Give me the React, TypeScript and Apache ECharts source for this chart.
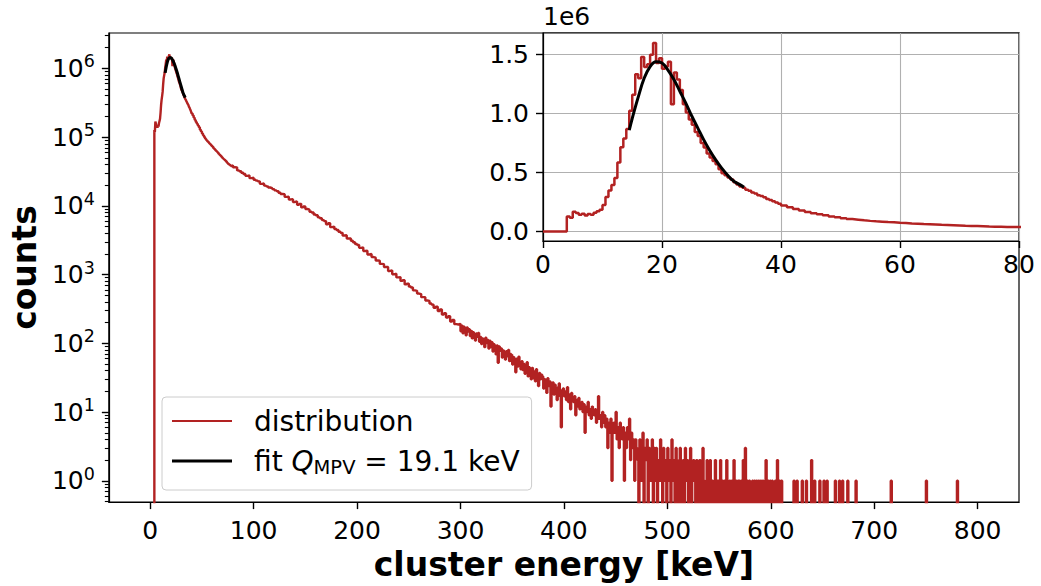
import React, { useEffect, useRef } from "react";
import * as echarts from "echarts";

// ---------------- data ----------------
// Histogram of cluster energy: each segment = start energy [keV], bin width [keV], counts per bin
const seg1Start = 0;
const seg1Width = 0.5;
const seg1Counts = [
  0, 0, 0, 0, 0, 0, 0, 0, 0,
  127000, 118000, 168000, 158000, 142000, 150000, 137000, 148000, 142000, 160000,
  172000, 185000, 226000, 292000, 348000, 395000, 455000, 585000, 715000, 790000,
  870000, 1025000, 1160000, 1335000, 1300000, 1480000, 1395000, 1420000, 1500000, 1600000,
  1430000, 1470000, 1380000, 1400000, 1440000, 1080000, 1350000, 1290000, 1200000, 1080000,
  1010000, 950000, 905000, 845000, 810000, 752000, 712000, 662000, 628000, 598000,
  571000, 528000, 495000, 478000, 458000, 441000, 418000, 400000, 382000, 371000,
  354000, 346000, 331000, 322000, 308000, 301000, 290000, 276000, 268000, 256000,
  246000,
];
const seg2Start = 40;
const seg2Width = 1;
const seg2Counts = [
  235000, 221000, 206000, 192000, 178000, 166000, 156000, 147000, 139000, 128000,
  121000, 113000, 106000, 100500, 95000, 90500, 87000, 84000, 80500, 78000,
  75000, 72500, 69000, 66500, 64000, 62000, 59500, 57000, 55000, 53000,
  51000, 49000, 47500, 46000, 44500, 42500, 41000, 40000, 39000, 38000,
];
const seg3Start = 80;
const seg3Width = 2;
const seg3Counts = [
  38900, 36400, 36300, 32800, 31900, 30300, 29100, 27300, 27700, 25300,
  25600, 24000, 23300, 22700, 20900, 21100, 19700, 19200, 18500, 18100,
  17500, 16800, 16400, 15500, 14900, 14800, 13500, 13600, 12400, 12500,
  11400, 11600, 10400, 10700, 9500, 9800, 9000, 8800, 8200, 8000,
  7500, 7300, 6800, 6600, 6200, 6000, 5400, 5600, 4900, 5000,
  4600, 4450, 4200, 4050, 3700, 3750, 3350, 3350, 3100, 2950,
  2780, 2700, 2450, 2480, 2200, 2220, 1960, 1990, 1800, 1760,
  1600, 1590, 1430, 1420, 1290, 1290, 1130, 1150, 1010, 1030,
  910, 920, 810, 830, 720, 740, 670, 650, 590, 580,
  530, 520, 470, 470, 420, 415, 380, 365, 330, 340,
  295, 310, 262, 275, 238, 248, 208, 218, 190, 188,
];
const seg4Start = 300;
const seg4Width = 1;
const seg4Counts = [
  192, 150, 181, 140, 174, 162, 131, 170, 148, 160,
  128, 152, 118, 145, 133, 110, 139, 124, 141, 105,
  124, 98, 118, 106, 88, 121, 101, 112, 84, 109,
  88, 104, 76, 97, 85, 69, 93, 52, 90, 78,
  84, 62, 79, 71, 58, 77, 65, 80, 55, 70,
  68, 49, 63, 57, 38, 60, 46, 64, 51, 42,
  55, 41, 50, 36, 47, 53, 33, 45, 39, 30,
  44, 31, 39, 28, 42, 33, 24, 37, 30, 35,
  33, 22, 30, 26, 19, 31, 24, 28, 12, 25,
  27, 18, 25, 20, 15, 23, 26, 17, 6, 21,
  22, 17, 20, 15, 23, 14, 18, 11, 19, 16,
  14, 17, 9, 15, 12, 16, 11, 13, 14, 10,
  13, 5, 12, 10, 14, 9, 11, 8, 12, 10,
  9, 11, 7, 10, 17, 8, 9, 6, 10, 7,
  9, 6, 8, 3, 7, 5, 8, 1, 6, 7,
  5, 10, 4, 6, 3, 7, 5, 4, 6, 1,
  5, 3, 6, 4, 8, 2, 5, 3, 4, 1,
  4, 3, 2, 0, 4, 3, 1, 5, 0, 3,
  2, 4, 0, 3, 1, 2, 4, 0, 3, 1,
  3, 0, 2, 1, 4, 2, 0, 3, 1, 2,
  0, 3, 1, 2, 0, 4, 1, 2, 0, 3,
  1, 0, 2, 3, 0, 1, 2, 0, 3, 1,
  2, 0, 1, 3, 0, 1, 2, 1, 0, 2,
  1, 0, 2, 1, 0, 3, 1, 0, 1, 2,
  0, 1, 2, 0, 1, 0, 1, 2, 0, 1,
  1, 0, 2, 0, 1, 0, 1, 0, 2, 1,
  0, 1, 0, 1, 0, 2, 0, 1, 0, 1,
  1, 0, 1, 0, 2, 0, 3, 0, 1, 0,
  1, 0, 0, 1, 0, 1, 0, 1, 0, 1,
  0, 1, 0, 1, 0, 0, 2, 0, 1, 0,
  1, 0, 1, 0, 0, 1, 0, 2, 0, 1,
  0, 1, 0, 0, 0, 0, 0, 0, 0, 0,
  0, 0, 0, 1, 0, 0, 1, 0, 0, 0,
  0, 1, 0, 0, 0, 1, 0, 0, 0, 0,
  2, 0, 0, 1, 0, 0, 0, 0, 1, 0,
  0, 0, 1, 0, 0, 1, 0, 0, 0, 0,
  0, 0, 0, 1, 0, 0, 0, 1, 0, 0,
  1, 0, 0, 0, 0, 1, 0, 0, 0, 0,
  0, 0, 0, 1, 0, 0, 0, 0, 0, 0,
  0, 0, 0, 0, 0, 0, 0, 0, 0, 0,
  0, 0, 0, 0, 0, 0, 0, 0, 0, 0,
  0, 0, 0, 0, 0, 0, 0, 1, 0, 0,
  0, 0, 0, 0, 0, 0, 0, 0, 0, 0,
  0, 0, 0, 0, 0, 0, 0, 0, 0, 0,
  0, 0, 0, 0, 0, 0, 0, 0, 0, 0,
  0, 1, 0, 0, 0, 0, 0, 0, 0, 0,
  0, 0, 0, 0, 0, 0, 0, 0, 0, 0,
  0, 0, 0, 0, 0, 0, 0, 0, 0, 0,
  0, 1, 0, 0, 0, 0, 0, 0, 0, 0,
  0, 0, 0, 0, 0, 0, 0, 0, 0, 0,
];

// Landau-type fit curve
const fitEnergy = [14.5, 15, 16, 17, 18, 19, 20, 21, 22, 23, 24, 25, 26, 27, 28, 29, 30, 31, 32, 33, 33.8];
const fitCounts = [
  860000, 960000, 1140000, 1300000, 1400000, 1440000, 1430000, 1370000, 1290000, 1190000,
  1090000, 980000, 880000, 780000, 690000, 610000, 540000, 480000, 430000, 400000, 375000,
];

// axis ticks
const mainXTicks = [0, 100, 200, 300, 400, 500, 600, 700, 800];
const mainYDecades = [0, 1, 2, 3, 4, 5, 6];
const insetYTicks = [0, 500000, 1000000, 1500000];

// ---------------- chart ----------------
const FONT = "DejaVu Sans";
const RED = "#b22222";
const LOG_FLOOR = 0.01; // empty bins are drawn below the log axis (clipped), like matplotlib

function histogramPoints(): [number, number][] {
  const segs: [number, number, number[]][] = [
    [seg1Start, seg1Width, seg1Counts],
    [seg2Start, seg2Width, seg2Counts],
    [seg3Start, seg3Width, seg3Counts],
    [seg4Start, seg4Width, seg4Counts],
  ];
  const pts: [number, number][] = [];
  for (const [start, width, counts] of segs) {
    counts.forEach((c, i) => pts.push([start + i * width, c]));
  }
  const lastCount = seg4Counts[seg4Counts.length - 1];
  pts.push([seg4Start + seg4Counts.length * seg4Width, lastCount]);
  return pts;
}

export default function App() {
  const ref = useRef<HTMLDivElement>(null);

  useEffect(() => {
    if (!ref.current) return;
    const chart = echarts.init(ref.current, undefined, { renderer: "svg" });

    const hist = histogramPoints();
    const histLog = hist.map(([x, c]) => [x, c > 0 ? c : LOG_FLOOR]);
    const fit = fitEnergy.map((e, i) => [e, fitCounts[i]]);

    const yMinLog = Math.log10(0.49);
    const yMaxLog = Math.log10(3.27e6);
    const minorTicks: number[] = [];
    for (let d = -1; d <= 6; d++) {
      for (let k = 2; k <= 9; k++) {
        const v = Math.log10(k) + d;
        if (v > yMinLog && v < yMaxLog) minorTicks.push(v);
      }
    }

    const axisLine = { show: true, onZero: false, lineStyle: { color: "#000", width: 1.2 } };
    const majorTick = (values?: number[]) => ({
      show: true, length: 7, lineStyle: { color: "#000", width: 1.4 }, ...(values ? { customValues: values } : {}),
    });

    chart.setOption({
      animation: false,
      grid: [
        { left: 106, right: 22, top: 33, bottom: 83, show: true, borderColor: "#000", borderWidth: 1.2 },
        { left: 543, right: 22, top: 33, bottom: 345, show: true, borderColor: "#000", borderWidth: 1.2, backgroundColor: "#fff" },
      ],
      xAxis: [
        {
          type: "value", gridIndex: 0, min: -40, max: 840,
          axisLine,
          axisTick: majorTick(mainXTicks),
          axisLabel: { customValues: mainXTicks, fontSize: 25, fontFamily: FONT, color: "#000", margin: 16 },
          splitLine: { show: false },
          name: "cluster energy [keV]", nameLocation: "middle", nameGap: 40,
          nameTextStyle: { fontSize: 33, fontWeight: "bold", fontFamily: FONT, color: "#000" },
        },
        {
          type: "value", gridIndex: 1, min: 0, max: 80, interval: 20,
          axisLine,
          axisTick: majorTick(),
          axisLabel: { fontSize: 25, fontFamily: FONT, color: "#000", margin: 11 },
          splitLine: { show: true, lineStyle: { color: "#b0b0b0", width: 1.1 } },
        },
      ],
      yAxis: [
        {
          type: "log", logBase: 10, gridIndex: 0, min: 0.49, max: 3.27e6,
          axisLine: { show: false, onZero: false },
          axisTick: { show: false }, axisLabel: { show: false }, splitLine: { show: false },
        },
        {
          type: "value", gridIndex: 0, position: "left", min: yMinLog, max: yMaxLog,
          axisLine,
          axisTick: majorTick(mainYDecades),
          axisLabel: {
            customValues: mainYDecades, margin: 14, color: "#000",
            formatter: (v: number) => `{b|10}{s|${Math.round(v)}}`,
            rich: {
              b: { fontSize: 25, fontFamily: FONT, color: "#000" },
              s: { fontSize: 17.5, fontFamily: FONT, color: "#000", padding: [0, 0, 14, 0] },
            },
          },
          splitLine: { show: false },
          name: "counts", nameLocation: "middle", nameGap: 62,
          nameTextStyle: { fontSize: 33, fontWeight: "bold", fontFamily: FONT, color: "#000" },
        },
        {
          type: "value", gridIndex: 0, position: "left", min: yMinLog, max: yMaxLog,
          axisLine: { show: false, onZero: false },
          axisTick: { show: true, length: 4, lineStyle: { color: "#000", width: 1.1 }, customValues: minorTicks },
          axisLabel: { show: false },
          splitLine: { show: false },
        },
        {
          type: "value", gridIndex: 1, position: "left", min: -80200, max: 1684200,
          axisLine,
          axisTick: majorTick(insetYTicks),
          axisLabel: {
            customValues: insetYTicks, fontSize: 25, fontFamily: FONT, color: "#000", margin: 14,
            formatter: (v: number) => (v / 1e6).toFixed(1),
          },
          splitLine: { show: true, lineStyle: { color: "#b0b0b0", width: 1.1 } },
          name: "1e6", nameLocation: "end", nameGap: 4,
          nameTextStyle: { fontSize: 25, fontFamily: FONT, color: "#000", align: "left", verticalAlign: "bottom" },
        },
      ],
      legend: {
        data: [
          { name: "distribution", icon: "path://M0 0H60V2.2H0Z" },
          { name: "fit", icon: "path://M0 0H60V3.2H0Z" },
        ],
        orient: "vertical",
        left: 162, top: 397,
        itemWidth: 60, itemHeight: 14, itemGap: 12,
        padding: [10, 12, 13, 10],
        backgroundColor: "rgba(255,255,255,0.8)",
        borderColor: "#cccccc", borderWidth: 1, borderRadius: 4,
        formatter: (name: string) =>
          name === "fit" ? "{t|fit }{q|Q}{m|MPV}{t| = 19.1 keV}" : "{t|distribution}",
        textStyle: {
          fontSize: 28, fontFamily: FONT, color: "#000", padding: [0, 0, 0, 17],
          rich: {
            t: { fontSize: 28, fontFamily: FONT, color: "#000" },
            q: { fontSize: 28, fontFamily: FONT, color: "#000", fontStyle: "italic" },
            m: { fontSize: 19.5, fontFamily: FONT, color: "#000", padding: [12, 0, 0, 0] },
          },
        },
      },
      series: [
        {
          name: "distribution", type: "line", xAxisIndex: 0, yAxisIndex: 0,
          data: histLog, step: "start", showSymbol: false, symbol: "none",
          lineStyle: { color: RED, width: 2.4 }, itemStyle: { color: RED }, clip: true, z: 2,
        },
        {
          name: "fit", type: "line", xAxisIndex: 0, yAxisIndex: 0,
          data: fit, smooth: 0.4, showSymbol: false, symbol: "none",
          lineStyle: { color: "#000", width: 3 }, itemStyle: { color: "#000" }, z: 3,
        },
        {
          name: "distribution", type: "line", xAxisIndex: 1, yAxisIndex: 3,
          data: hist, step: "start", showSymbol: false, symbol: "none",
          lineStyle: { color: RED, width: 2.5 }, itemStyle: { color: RED }, clip: true, z: 4,
        },
        {
          name: "fit", type: "line", xAxisIndex: 1, yAxisIndex: 3,
          data: fit, smooth: 0.4, showSymbol: false, symbol: "none",
          lineStyle: { color: "#000", width: 3 }, itemStyle: { color: "#000" }, z: 5,
        },
      ],
    });

    return () => chart.dispose();
  }, []);

  return (
    <div
      ref={ref}
      style={{ position: "fixed", left: 0, top: 0, width: 1041, height: 586, background: "#fff" }}
    />
  );
}
